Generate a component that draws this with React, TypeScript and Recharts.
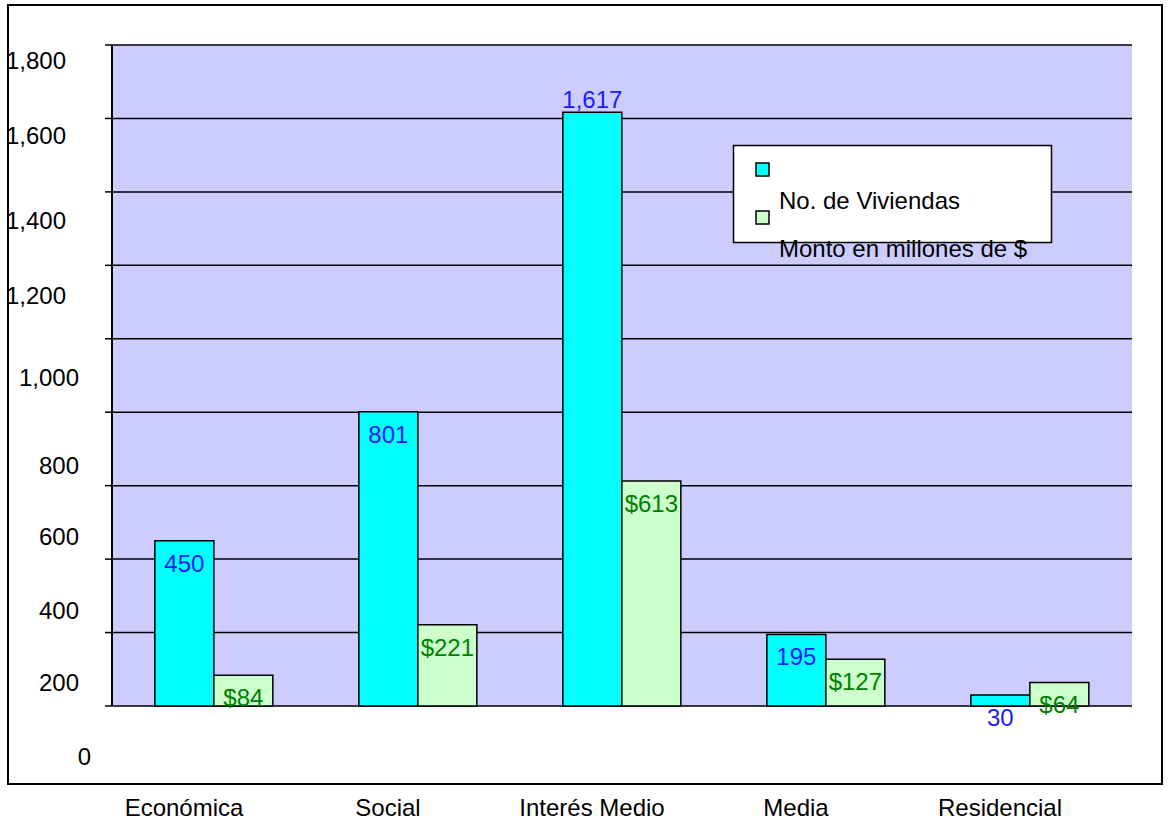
import { BarChart, Bar, XAxis, YAxis, CartesianGrid, Legend, LabelList, ReferenceLine } from 'recharts';

const categories = ['Económica', 'Social', 'Interés Medio', 'Media', 'Residencial'];
const viviendas = [450, 801, 1617, 195, 30];
const monto = [84, 221, 613, 127, 64];
const seriesNames = ['No. de Viviendas', 'Monto en millones de $'];
const yTicks = [0, 200, 400, 600, 800, 1000, 1200, 1400, 1600, 1800];
const edgeTicks = [0, 1, 2, 3, 4, 5];

const chartData = categories.map((name, i) => ({ name, viviendas: viviendas[i], monto: monto[i] }));

const FONT = '"Liberation Sans", Arial, sans-serif';
const FS = 24;

// the old spreadsheet export drew the value labels a bit off the gridlines
const yShift: Record<number, [number, number]> = {
  0: [-12, 50],
  200: [-24, 50],
  400: [-24, 51],
  600: [-24, 51],
  800: [-24, 53],
  1000: [-24, 39],
  1200: [-37, 30],
  1400: [-37, 29],
  1600: [-37, 17],
  1800: [-37, 15],
};

const YTick = (props: any) => {
  const { x, y, payload } = props;
  const [dx, dy] = yShift[payload.value] ?? [-24, 0];
  return (
    <text x={x + dx} y={y + dy} textAnchor="end" dominantBaseline="central" fontSize={FS} fill="#000" fontFamily={FONT}>
      {payload.value.toLocaleString('en-US')}
    </text>
  );
};

const XTick = (props: any) => {
  const { x, payload } = props;
  return (
    <text x={x - 30} y={816} textAnchor="middle" fontSize={FS} fill="#000" fontFamily={FONT}>
      {payload.value}
    </text>
  );
};

const makeLabel = (color: string, prefix: string) => (props: any) => {
  const { x, y, width, value } = props;
  const above = y < 150;
  return (
    <text
      x={x + width / 2}
      y={above ? y - 4 : y + 31}
      textAnchor="middle"
      fontSize={FS}
      fill={color}
      fontFamily={FONT}
    >
      {prefix + Number(value).toLocaleString('en-US')}
    </text>
  );
};

const LegendBox = (props: any) => {
  const items = [...(props.payload ?? [])].sort(
    (a: any, b: any) => seriesNames.indexOf(a.value) - seriesNames.indexOf(b.value)
  );
  return (
    <svg width={340} height={120} style={{ overflow: 'visible', display: 'block' }}>
      <rect x={0.5} y={0.5} width={318} height={97} fill="#fff" stroke="#000" strokeWidth={1.5} />
      {items.map((it: any, i: number) => (
        <g key={i}>
          <rect x={23} y={18 + i * 48} width={13} height={13} fill={it.color} stroke="#000" strokeWidth={1.5} />
          <text x={46} y={64 + i * 48} fontSize={FS} fill="#000" fontFamily={FONT}>
            {it.value}
          </text>
        </g>
      ))}
    </svg>
  );
};

export default function App() {
  return (
    <div style={{ position: 'absolute', left: 0, top: 0, width: 1170, height: 821, background: '#fff', fontFamily: FONT }}>
      <div
        style={{
          position: 'absolute',
          left: 7,
          top: 4,
          width: 1156,
          height: 781,
          border: '2px solid #000',
          boxSizing: 'border-box',
          pointerEvents: 'none',
        }}
      />
      <BarChart
        width={1170}
        height={821}
        data={chartData}
        margin={{ top: 45, right: 38, left: 0, bottom: 0 }}
        barCategoryGap="21%"
        barGap={0}
      >
        <CartesianGrid fill="#CCCCFF" vertical={false} stroke="#000" strokeWidth={1.5} />
        <XAxis
          xAxisId="edges"
          type="number"
          domain={[0, 5]}
          ticks={edgeTicks}
          height={0}
          tick={false}
          tickSize={5}
          tickLine={{ stroke: '#000', strokeWidth: 1.5 }}
          axisLine={{ stroke: '#000', strokeWidth: 2 }}
          allowDataOverflow
        />
        <XAxis
          xAxisId="cat"
          dataKey="name"
          height={115}
          tickLine={false}
          axisLine={false}
          tick={<XTick />}
          interval={0}
        />
        <YAxis
          domain={[0, 1800]}
          ticks={yTicks}
          width={112}
          tickSize={7}
          tickLine={{ stroke: '#000', strokeWidth: 1.5 }}
          axisLine={{ stroke: '#000', strokeWidth: 2 }}
          tick={<YTick />}
          interval={0}
        />
        <ReferenceLine xAxisId="edges" x={5} stroke="#000" strokeWidth={2} />
        <Legend
          layout="vertical"
          align="center"
          verticalAlign="middle"
          content={<LegendBox />}
          wrapperStyle={{ position: 'absolute', left: 733, top: 145, width: 340, height: 120 }}
        />
        <Bar xAxisId="cat" dataKey="viviendas" name={seriesNames[0]} fill="#00FFFF" stroke="#000" strokeWidth={1.5} isAnimationActive={false}>
          <LabelList dataKey="viviendas" content={makeLabel('#1a1aff', '')} />
        </Bar>
        <Bar xAxisId="cat" dataKey="monto" name={seriesNames[1]} fill="#CCFFCC" stroke="#000" strokeWidth={1.5} isAnimationActive={false}>
          <LabelList dataKey="monto" content={makeLabel('#008000', '$')} />
        </Bar>
      </BarChart>
    </div>
  );
}
